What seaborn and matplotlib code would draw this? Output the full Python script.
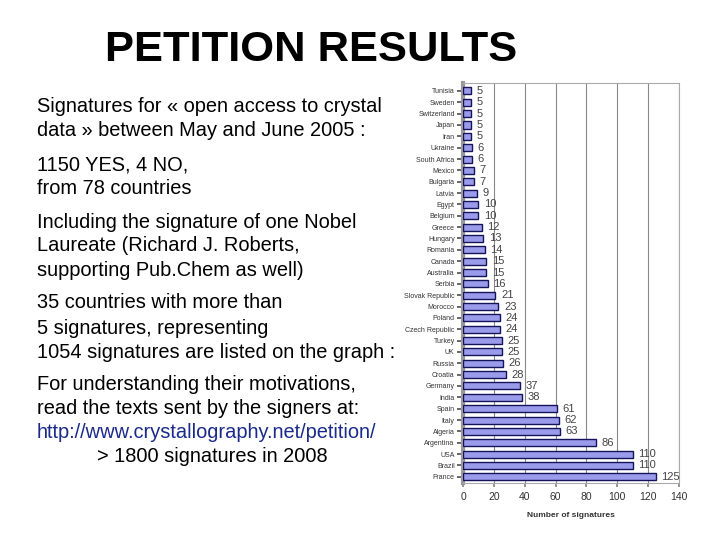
import matplotlib
matplotlib.use("Agg")
import matplotlib.pyplot as plt
import seaborn as sns
import pandas as pd

countries = ["Tunisia", "Sweden", "Switzerland", "Japan", "Iran", "Ukraine", "South Africa",
             "Mexico", "Bulgaria", "Latvia", "Egypt", "Belgium", "Greece", "Hungary", "Romania",
             "Canada", "Australia", "Serbia", "Slovak Republic", "Morocco", "Poland",
             "Czech Republic", "Turkey", "UK", "Russia", "Croatia", "Germany", "India", "Spain",
             "Italy", "Algeria", "Argentina", "USA", "Brazil", "France"]
signatures = [5, 5, 5, 5, 5, 6, 6, 7, 7, 9, 10, 10, 12, 13, 14, 15, 15, 16, 21, 23, 24,
              24, 25, 25, 26, 28, 37, 38, 61, 62, 63, 86, 110, 110, 125]
xticks = [0, 20, 40, 60, 80, 100, 120, 140]

title = "PETITION RESULTS"
paragraphs = [
    ["Signatures for « open access to crystal", "data » between May and June 2005 :"],
    ["1150 YES, 4 NO,", "from 78 countries"],
    ["Including the signature of one Nobel", "Laureate (Richard J. Roberts,", "supporting Pub.Chem as well)"],
    ["35 countries with more than", "5 signatures, representing", "1054 signatures are listed on the graph :"],
    ["For understanding their motivations,", "read the texts sent by the signers at:"],
]
url = "http://www.crystallography.net/petition/"
note = "> 1800 signatures in 2008"

sns.set_theme(style="white")
plt.rcParams['font.family'] = ['Liberation Sans', 'DejaVu Sans']

df = pd.DataFrame({"country": countries, "signatures": signatures})

fig = plt.figure(figsize=(7.2, 5.4), dpi=100)
fig.patch.set_facecolor("white")

# Left text
fig.text(311 / 720, 1 - 50 / 540, title, ha="center", va="center",
         fontsize=31.3, fontweight="bold", color="black")
line_y = [[107, 131], [165, 189], [222, 246, 270], [303, 328, 352], [385, 409]]
fs = 14.4
for para, ys in zip(paragraphs, line_y):
    for line, y in zip(para, ys):
        fig.text(37 / 720, 1 - y / 540, line, ha="left", va="center", fontsize=fs, color="black")
fig.text(37 / 720, 1 - 433 / 540, url, ha="left", va="center", fontsize=fs, color="#1a2a8a")
fig.text(97 / 720, 1 - 457 / 540, note, ha="left", va="center", fontsize=fs, color="black")

# Chart
ax = fig.add_axes([463 / 720, 1 - 483 / 540, 216 / 720, 400 / 540])
sns.barplot(data=df, x="signatures", y="country", color="#9b9bec", edgecolor="#14145a",
            linewidth=1.0, width=0.62, saturation=1, ax=ax, zorder=3)
for c in ax.containers:
    ax.bar_label(c, padding=4, fontsize=8, color="#444444")
ax.set_xlim(0, 140)
ax.set_ylim(34.55, -0.7)
ax.set_xticks(xticks)
ax.set_xticklabels([str(t) for t in xticks], fontsize=7.5, color="#333333")
ax.tick_params(axis="y", labelsize=5.0, labelcolor="#333333", length=4, left=True, color="#555555", pad=2)
ax.tick_params(axis="x", length=3, bottom=True, color="#888888")
ax.set_ylabel("")
ax.set_xlabel("Number of signatures", fontsize=6, fontweight="bold", color="#333333", labelpad=7)
ax.xaxis.grid(True, color="#888888", linewidth=0.8, zorder=0)
for side in ["top", "right", "bottom"]:
    ax.spines[side].set_color("#aaaaaa")
    ax.spines[side].set_linewidth(0.8)
ax.spines["left"].set_color("#999999")
ax.spines["left"].set_linewidth(3)

fig.savefig("out.png", dpi=100, facecolor="white")
